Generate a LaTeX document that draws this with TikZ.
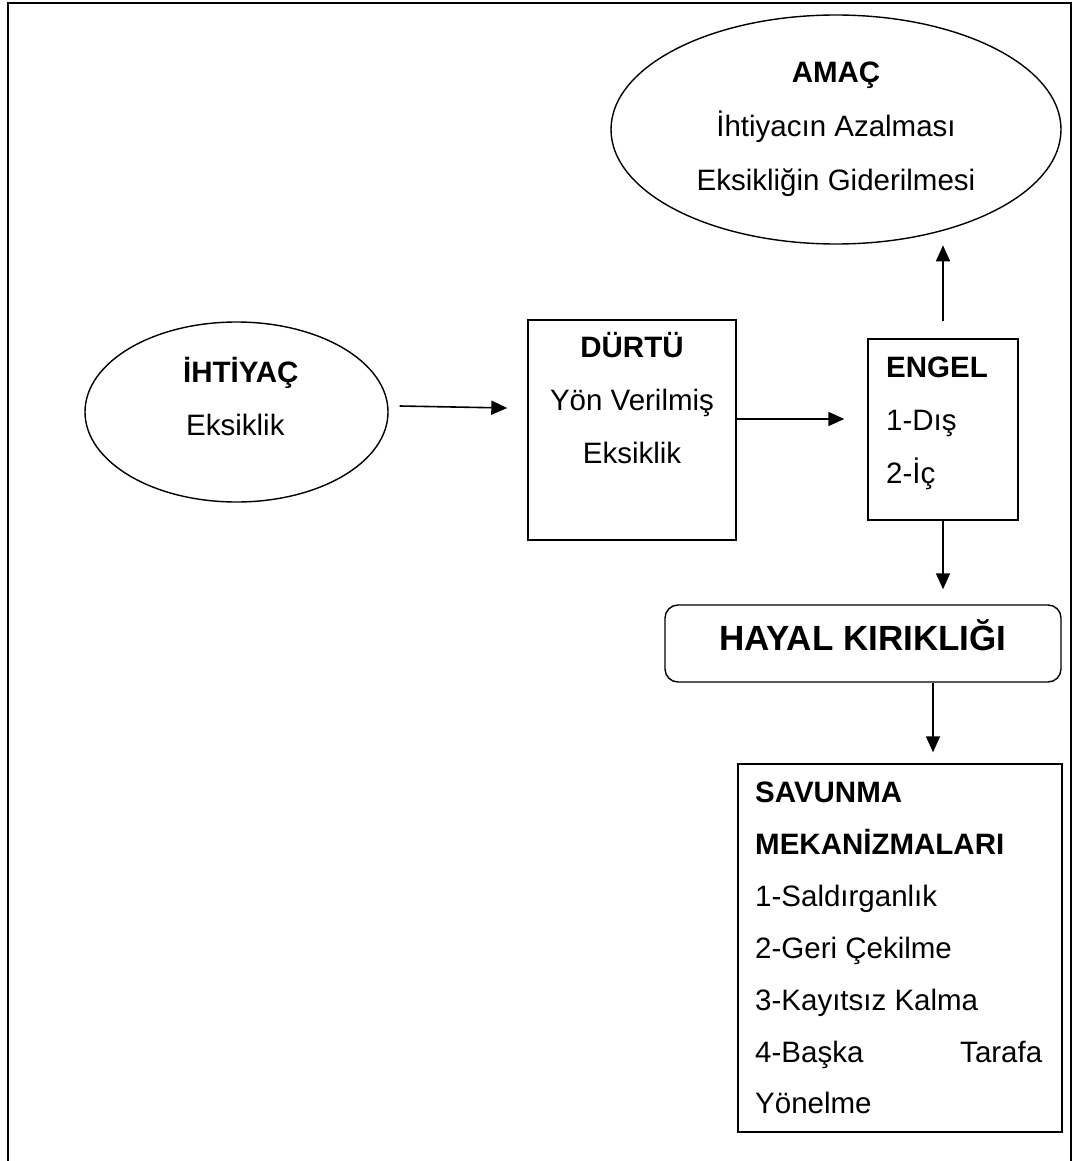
\documentclass[tikz,border=0pt]{standalone}
\usepackage{fontspec}
\setmainfont{Liberation Sans}
\usetikzlibrary{shapes.geometric,arrows.meta,calc}
\begin{document}
\begin{tikzpicture}[x=1pt,y=-1pt,
  outline/.style={draw=black,line width=1.4pt},
  oval/.style={outline,ellipse,inner sep=0pt},
  panel/.style={outline,rectangle,inner sep=0pt},
  txt/.style={inner sep=0pt,font=\fontsize{29.5}{36}\selectfont},
  head/.style={inner sep=0pt,font=\fontsize{29.5}{36}\selectfont\bfseries},
  bighead/.style={inner sep=0pt,font=\fontsize{35}{42}\selectfont\bfseries},
  arr/.style={line width=1.6pt,-{Triangle[length=16pt,width=14pt]}},
]
\useasboundingbox (0,0) rectangle (1078,1161);
% page frame, open at the bottom
\draw[line width=2pt] (8,1161) -- (8,3) -- (1071,3) -- (1071,1161);

% shapes
\node[oval,minimum width=450pt,minimum height=229pt] (amac) at (836,129.5) {};
\node[oval,minimum width=303pt,minimum height=180pt] (ihtiyac) at (236.5,412) {};
\node[panel,minimum width=208pt,minimum height=220pt] (durtu) at (632,430) {};
\node[panel,minimum width=150pt,minimum height=181pt] (engel) at (943,429.5) {};
\node[panel,rounded corners=13pt,minimum width=396pt,minimum height=77pt] (hayal) at (863,643.5) {};
\node[panel,minimum width=324pt,minimum height=368pt] (savunma) at (900,948) {};

% texts
\node[head,anchor=base] (amacA) at (836,83) {AMAÇ};
\node[txt,anchor=base] (amacB) at (836,137) {İhtiyacın Azalması};
\node[txt,anchor=base] (amacC) at (836,191) {Eksikliğin Giderilmesi};

\node[head,anchor=base west] (ihtA) at (183,382) {İHTİYAÇ};
\node[txt,anchor=base west] (ihtB) at (186,435) {Eksiklik};

\node[head,anchor=base] (durA) at (632,357) {DÜRTÜ};
\node[txt,anchor=base] (durB) at (632,410) {Yön Verilmiş};
\node[txt,anchor=base] (durC) at (632,463) {Eksiklik};

\node[head,anchor=base west] (engA) at (886,377) {ENGEL};
\node[txt,anchor=base west] (engB) at (886,430) {1-Dış};
\node[txt,anchor=base west] (engC) at (886,483) {2-İç};

\node[bighead,anchor=base] (hayA) at (863,650) {HAYAL KIRIKLIĞI};

\node[head,anchor=base west] (savA) at (755,802) {SAVUNMA};
\node[head,anchor=base west] (savB) at (755,854) {MEKANİZMALARI};
\node[txt,anchor=base west] (savC) at (755,906) {1-Saldırganlık};
\node[txt,anchor=base west] (savD) at (755,958) {2-Geri Çekilme};
\node[txt,anchor=base west] (savE) at (755,1010) {3-Kayıtsız Kalma};
\node[txt,anchor=base west] (savF) at (755,1062) {\hbox to 287pt{4-Başka\hfill Tarafa}};
\node[txt,anchor=base west] (savG) at (755,1113) {Yönelme};

% connectors
\draw[arr] ($(ihtiyac.east)+(11,-6)$) -- ($(durtu.west)+(-20,-22)$);
\draw[arr] ($(durtu.east)+(0,-11)$) -- ($(engel.west)+(-23,-10.5)$);
\draw[arr] ($(engel.north)+(0,-17)$) -- ($(engel.north)+(0,-93)$);
\draw[arr] (engel.south) -- ($(hayal.north)+(80,-15)$);
\draw[arr] ($(hayal.south)+(70,0)$) -- ($(savunma.north)+(33,-11)$);
\end{tikzpicture}
\end{document}
